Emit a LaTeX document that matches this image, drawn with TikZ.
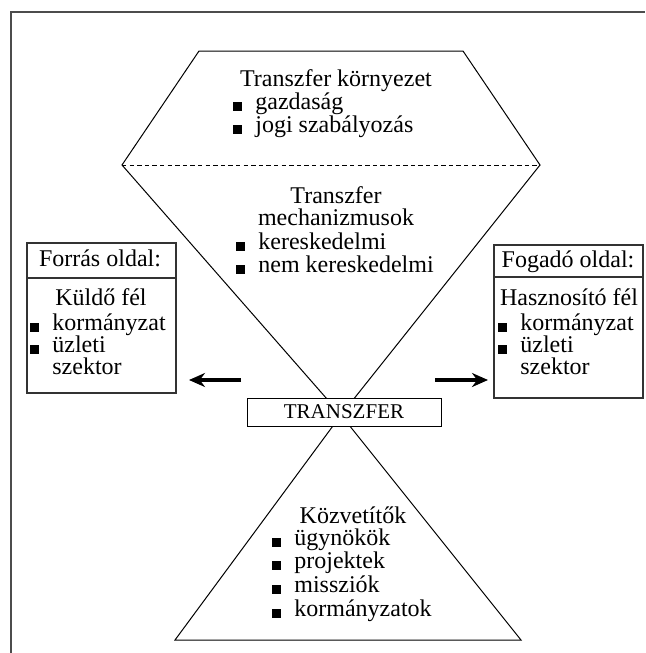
\documentclass[tikz,border=0pt]{standalone}
\usepackage{fontspec}
\setmainfont{Liberation Serif}
\usetikzlibrary{arrows.meta}

\newcommand{\sqbul}{\makebox[11pt][l]{\rule[-0.8pt]{4.2pt}{4.2pt}}}

\begin{document}
\begin{tikzpicture}[x=0.5pt, y=-0.5pt]

    \tikzstyle{txt}=[inner sep=0pt, font=\fontsize{12pt}{11.5pt}\selectfont];
    \tikzstyle{head}=[txt, anchor=base];
    \tikzstyle{listitem}=[txt, anchor=base west];
    \tikzstyle{sand}=[draw=black, line width=0.5pt, line join=miter];
    \tikzstyle{sidebox}=[draw=black!80, line width=0.6pt, minimum width=74.5pt];
    \tikzstyle{flow}=[line width=1.8pt, -{Stealth[length=8pt, width=7pt]}];

    \useasboundingbox (0,0) rectangle (645,653);

    \draw[draw=black!70, line width=0.7pt] (11,653) -- (11,12) -- (645,12);

    \coordinate (tl) at (199,51);
    \coordinate (tr) at (463,51);
    \coordinate (vl) at (122,165);
    \coordinate (vr) at (540,165);
    \coordinate (mid) at (341,415);
    \coordinate (bl) at (175,640);
    \coordinate (br) at (521,640);

    \draw[sand] (vl) -- (tl) -- (tr) -- (vr) -- (mid) -- cycle;
    \draw[sand, dash pattern=on 2.2pt off 1.6pt] (vl) -- (vr);
    \draw[sand] (mid) -- (bl) -- (br) -- cycle;

    \node[head] (kornyezet) at (336,86) {Transzfer környezet};
    \node[listitem] (gazdasag) at (233,109) {\sqbul gazdaság};
    \node[listitem] (jogi) at (233,132) {\sqbul jogi szabályozás};

    \node[head] (transzfer) at (336,203) {Transzfer};
    \node[head] (mechanizmus) at (336,225) {mechanizmusok};
    \node[listitem] (keresk) at (236,249) {\sqbul kereskedelmi};
    \node[listitem] (nemkeresk) at (236,272) {\sqbul nem kereskedelmi};

    \node[sidebox, minimum height=75pt] (forras) at (101.5,318) {};
    \draw[draw=black!80, line width=0.6pt] (forras.west |- 0,278) -- (forras.east |- 0,278);
    \node[head] (forrasfej) at (100,266) {Forrás oldal:};
    \node[head] (kuldo) at (101,305) {Küldő fél};
    \node[listitem] (korm1) at (30,330) {\sqbul kormányzat};
    \node[listitem] (uzleti1) at (30,352) {\sqbul üzleti};
    \node[listitem] (szektor1) at (52,374) {szektor};

    \node[sidebox, minimum height=76.5pt] (fogado) at (568.5,321.5) {};
    \draw[draw=black!80, line width=0.6pt] (fogado.west |- 0,277) -- (fogado.east |- 0,277);
    \node[head] (fogadofej) at (568,267) {Fogadó oldal:};
    \node[head] (hasznosito) at (569,305) {Hasznosító fél};
    \node[listitem] (korm2) at (498,330) {\sqbul kormányzat};
    \node[listitem] (uzleti2) at (498,352) {\sqbul üzleti};
    \node[listitem] (szektor2) at (520,374) {szektor};

    \node[draw=black, line width=0.5pt, fill=white, minimum width=97pt, minimum height=14pt, inner sep=0pt, font=\fontsize{10.5pt}{11pt}\selectfont] (transzferbox) at (344,412) {TRANSZFER};

    \coordinate (bal1) at (241,380);
    \coordinate (bal2) at (189,380);
    \coordinate (jobb1) at (435,380);
    \coordinate (jobb2) at (488,380);
    \draw (bal1) edge[flow] (bal2);
    \draw (jobb1) edge[flow] (jobb2);

    \node[head] (kozvetitok) at (353,523) {Közvetítők};
    \node[listitem] (ugynokok) at (272,545) {\sqbul ügynökök};
    \node[listitem] (projektek) at (272,568) {\sqbul projektek};
    \node[listitem] (missziok) at (272,592) {\sqbul missziók};
    \node[listitem] (kormanyzatok) at (272,616) {\sqbul kormányzatok};

\end{tikzpicture}
\end{document}
